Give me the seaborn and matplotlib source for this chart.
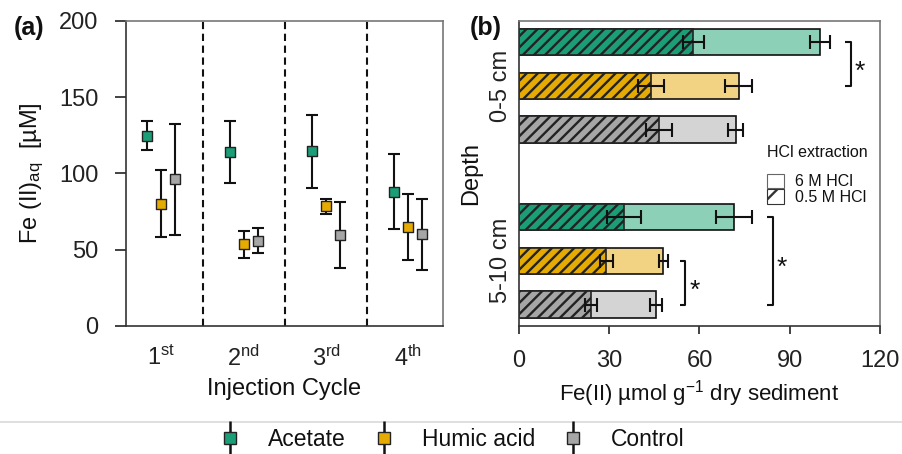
import numpy as np
import pandas as pd
import matplotlib
matplotlib.use("Agg")
import matplotlib.pyplot as plt
import seaborn as sns
from matplotlib.lines import Line2D
from matplotlib.patches import Patch
from matplotlib.legend_handler import HandlerTuple

# ---------------- data ----------------
cycles = ["1$^{\\mathrm{st}}$", "2$^{\\mathrm{nd}}$", "3$^{\\mathrm{rd}}$", "4$^{\\mathrm{th}}$"]
treatments = ["Acetate", "Humic acid", "Control"]

acetate_mean = [124.5, 114.0, 114.5, 88.0]
acetate_err = [9.5, 20.0, 24.0, 24.5]
humic_mean = [80.0, 53.5, 78.5, 65.0]
humic_err = [22.0, 9.0, 5.0, 21.5]
control_mean = [96.0, 56.0, 59.5, 60.0]
control_err = [36.5, 8.0, 21.5, 23.0]

depths = ["0-5 cm", "5-10 cm"]
hcl6_acetate = [100.0, 71.5]
hcl6_humic = [73.0, 48.0]
hcl6_control = [72.0, 45.5]
hcl6_acetate_err = [3.3, 6.0]
hcl6_humic_err = [4.6, 1.4]
hcl6_control_err = [2.4, 2.1]
hcl05_acetate = [58.0, 35.0]
hcl05_humic = [44.0, 29.0]
hcl05_control = [46.5, 24.0]
hcl05_acetate_err = [3.6, 5.6]
hcl05_humic_err = [4.3, 2.2]
hcl05_control_err = [4.4, 1.9]

# ---------------- style ----------------
dark = {"Acetate": "#1b9e77", "Humic acid": "#e6ab02", "Control": "#a6a6a6"}
light = {"Acetate": "#8dd0b8", "Humic acid": "#f2d383", "Control": "#d4d4d4"}

sns.set_theme(style="white")
plt.rcParams["font.family"] = ["Liberation Sans", "DejaVu Sans"]
plt.rcParams["mathtext.fontset"] = "custom"
plt.rcParams["mathtext.rm"] = "Liberation Sans"
plt.rcParams["mathtext.it"] = "Liberation Sans:italic"
plt.rcParams["mathtext.bf"] = "Liberation Sans:bold"
plt.rcParams["hatch.linewidth"] = 1.7
plt.rcParams["text.color"] = "#111111"
plt.rcParams["axes.labelcolor"] = "#111111"
plt.rcParams["xtick.color"] = "#222222"
plt.rcParams["ytick.color"] = "#222222"

FS = 17

fig = plt.figure(figsize=(9.03, 4.54), dpi=100)
ax_a = fig.add_axes([126 / 903, 1 - 326 / 454, (443 - 126) / 903, (326 - 20.7) / 454])
ax_b = fig.add_axes([519 / 903, 1 - 326 / 454, (880 - 519) / 903, (326 - 20.7) / 454])

# ---------------- panel (a) ----------------
means = {"Acetate": acetate_mean, "Humic acid": humic_mean, "Control": control_mean}
errs = {"Acetate": acetate_err, "Humic acid": humic_err, "Control": control_err}
offsets = {"Acetate": -0.17, "Humic acid": 0.0, "Control": 0.17}
rows = []
for t in treatments:
    for i, c in enumerate(cycles):
        rows.append({"treatment": t, "cycle": i, "pos": i + offsets[t],
                     "value": means[t][i], "err": errs[t][i]})
df_a = pd.DataFrame(rows)

for t in treatments:
    sub = df_a[df_a.treatment == t]
    ax_a.errorbar(sub["pos"], sub["value"], yerr=sub["err"], fmt="none",
                  ecolor="#111111", elinewidth=1.5, capsize=4, capthick=1.5, zorder=2)
sns.scatterplot(data=df_a, x="pos", y="value", hue="treatment", palette=dark,
                marker="s", s=52, edgecolor="#222222", linewidth=1.0,
                legend=False, ax=ax_a, zorder=3)

for xv in [0.5, 1.5, 2.5]:
    ax_a.axvline(xv, color="#111111", lw=1.5, ls=(0, (3.5, 2.2)), zorder=1)

ax_a.set_xlim(-0.43, 3.42)
ax_a.set_ylim(0, 200)
ax_a.set_xticks(range(len(cycles)))
ax_a.set_xticklabels(cycles, fontsize=FS)
ax_a.set_yticks([0, 50, 100, 150, 200])
ax_a.tick_params(axis="y", labelsize=FS, length=8, width=1.2, direction="out", pad=12, left=True)
ax_a.tick_params(axis="x", length=0, pad=14)
ax_a.set_xlabel("Injection Cycle", fontsize=FS, labelpad=5)
ax_a.set_ylabel("Fe (II)$_{\\mathrm{aq}}$  [µM]", fontsize=FS, labelpad=9)

# ---------------- panel (b) ----------------
h6 = {"Acetate": (hcl6_acetate, hcl6_acetate_err), "Humic acid": (hcl6_humic, hcl6_humic_err),
      "Control": (hcl6_control, hcl6_control_err)}
h05 = {"Acetate": (hcl05_acetate, hcl05_acetate_err), "Humic acid": (hcl05_humic, hcl05_humic_err),
       "Control": (hcl05_control, hcl05_control_err)}
rows = []
for d, dep in enumerate(depths):
    for ti, t in enumerate(treatments):
        rows.append({"depth": dep, "treatment": t, "pos": d * 4 + ti,
                     "hcl6": h6[t][0][d], "hcl6_err": h6[t][1][d],
                     "hcl05": h05[t][0][d], "hcl05_err": h05[t][1][d]})
df_b = pd.DataFrame(rows)

sns.barplot(data=df_b, x="hcl6", y="pos", hue="treatment", palette=light, orient="h",
            native_scale=True, width=0.6, dodge=False, errorbar=None, legend=False,
            saturation=1, edgecolor="#111111", linewidth=1.2, ax=ax_b)
n_before = len(ax_b.patches)
sns.barplot(data=df_b, x="hcl05", y="pos", hue="treatment", palette=dark, orient="h",
            native_scale=True, width=0.6, dodge=False, errorbar=None, legend=False,
            saturation=1, edgecolor="#111111", linewidth=1.2, ax=ax_b)
for p in ax_b.patches[n_before:]:
    p.set_hatch("///")
    p.set_edgecolor("#222222")

ax_b.errorbar(df_b["hcl6"], df_b["pos"], xerr=df_b["hcl6_err"], fmt="none",
              ecolor="#111111", elinewidth=1.5, capsize=5, capthick=1.5, zorder=4)
ax_b.errorbar(df_b["hcl05"], df_b["pos"], xerr=df_b["hcl05_err"], fmt="none",
              ecolor="#111111", elinewidth=1.5, capsize=5, capthick=1.5, zorder=4)

# significance brackets
def bracket(ax, x, y0, y1, star_x, star_y):
    ax.plot([x - 1.8, x, x, x - 1.8], [y0, y0, y1, y1], color="#111111", lw=1.5,
            solid_capstyle="butt", clip_on=False)
    ax.text(star_x, star_y, "*", fontsize=FS + 2, ha="center", va="center", clip_on=False)

bracket(ax_b, 110.2, 0, 1, 113.2, 0.68)
bracket(ax_b, 84.3, 4, 6, 87.3, 5.15)
bracket(ax_b, 55.3, 5, 6, 58.3, 5.68)

ax_b.set_xlim(0, 120)
ax_b.set_ylim(6.49, -0.49)
ax_b.set_xticks([0, 30, 60, 90, 120])
ax_b.set_yticks([1, 5])
ax_b.set_yticklabels(depths, rotation=90, va="center", fontsize=FS)
ax_b.tick_params(axis="x", labelsize=FS, length=6, width=1.2, direction="out", pad=11, bottom=True)
ax_b.tick_params(axis="y", length=0, pad=5)
ax_b.set_xlabel("Fe(II) µmol g$^{-1}$ dry sediment", fontsize=16, labelpad=5)
ax_b.set_ylabel("Depth", fontsize=FS, labelpad=6)

leg_b = ax_b.legend(handles=[Patch(facecolor="white", edgecolor="#666666", lw=0.8),
                             Patch(facecolor="white", edgecolor="#333333", hatch="/", lw=0.8)],
                    labels=["6 M HCl", "0.5 M HCl"], title="HCl extraction",
                    loc="upper left", bbox_to_anchor=(0.655, 0.63), frameon=False,
                    fontsize=11.5, title_fontsize=11.5, handlelength=1.1, handleheight=1.0,
                    labelspacing=0.0, handletextpad=0.7, borderpad=0.2, alignment="left")
leg_b._legend_box.sep = 10

# spines
for ax in (ax_a, ax_b):
    for s in ["left", "bottom"]:
        ax.spines[s].set_color("#333333")
        ax.spines[s].set_linewidth(1.2)
    for s in ["top", "right"]:
        ax.spines[s].set_color("#777777")
        ax.spines[s].set_linewidth(1.2)
    ax.spines[:].set_visible(True)

# panel labels
fig.text(14 / 903, 1 - 28 / 454, "(a)", fontsize=18, fontweight="bold", va="center")
fig.text(470 / 903, 1 - 28 / 454, "(b)", fontsize=18, fontweight="bold", va="center")

# separator line and bottom legend
fig.add_artist(Line2D([0, 1], [1 - 421.5 / 454, 1 - 421.5 / 454], transform=fig.transFigure,
                      color="#d9d9d9", lw=1.2))
handles = []
for t in treatments:
    vline = Line2D([], [], marker="|", markersize=24, mew=1.8, color="#111111", ls="none")
    sq = Line2D([], [], marker="s", markersize=8, mfc=dark[t], mec="#222222", mew=1.0, ls="none")
    handles.append((vline, sq))
fig.legend(handles=handles, labels=treatments, loc="center", bbox_to_anchor=(0.5, 1 - 440 / 454),
           ncol=3, frameon=False, fontsize=16.5, handler_map={tuple: HandlerTuple(ndivide=1)},
           handlelength=1.0, handletextpad=1.15, columnspacing=1.15)

fig.savefig("out.png", dpi=100)
